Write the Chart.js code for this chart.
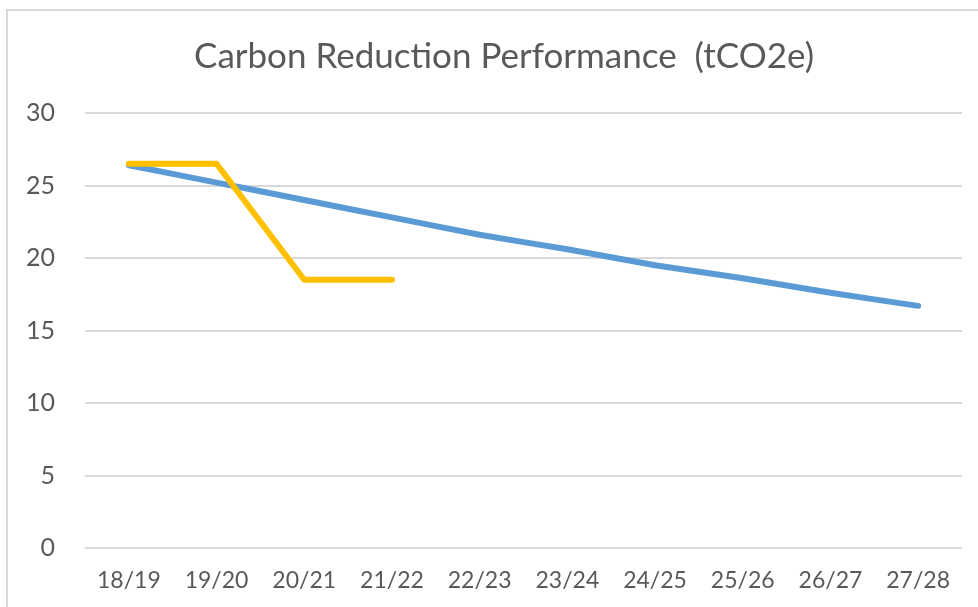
<!DOCTYPE html>
<html>
<head>
<meta charset="utf-8">
<script src="https://cdn.jsdelivr.net/npm/chart.js@4"></script>
<style>
  html, body { margin: 0; padding: 0; background: #fff; overflow: hidden; }
  #wrap { position: relative; width: 978px; height: 607px; }
  #frame { position: absolute; left: 6px; top: 9px; width: 1000px; height: 700px; border: 2px solid #d9d9d9; }
  #chart { position: absolute; left: 0; top: 0; }
</style>
</head>
<body>
<div id="wrap">
  <div id="frame"></div>
  <canvas id="chart" width="978" height="607"></canvas>
</div>
<script>
// chart values
const years = ['18/19', '19/20', '20/21', '21/22', '22/23', '23/24', '24/25', '25/26', '26/27', '27/28'];
const targetValues = [26.4, 25.2, 24.0, 22.8, 21.6, 20.6, 19.5, 18.6, 17.6, 16.7];
const actualValues = [26.5, 26.5, 18.5, 18.5];
const yTicks = [0, 5, 10, 15, 20, 25, 30];

const textColour = '#595959';
const gridColour = '#d9d9d9';
const fontFamily = 'Lato, "Open Sans", sans-serif';

// the reference title sits a bit right of the plot centre
const shiftTitle = {
  id: 'shiftTitle',
  afterLayout: (chart) => {
    if (chart.titleBlock) {
      chart.titleBlock.left = 46;
      chart.titleBlock.right = 962;
    }
  }
};

const data = {
  labels: years,
  datasets: [{
    label: 'Actual',
    data: actualValues,
    borderColor: '#FFC000',
    backgroundColor: '#FFC000',
    borderWidth: 6,
    pointRadius: 0,
    tension: 0,
    borderCapStyle: 'round',
    borderJoinStyle: 'round',
    order: 1
  }, {
    label: 'Target',
    data: targetValues,
    borderColor: '#5B9BD5',
    backgroundColor: '#5B9BD5',
    borderWidth: 6,
    pointRadius: 0,
    tension: 0.15,
    borderCapStyle: 'round',
    borderJoinStyle: 'round',
    order: 2
  }]
};

const config = {
  type: 'line',
  data: data,
  plugins: [shiftTitle],
  options: {
    responsive: false,
    animation: false,
    layout: { padding: { left: 0, right: 16, top: 0, bottom: 0 } },
    plugins: {
      legend: { display: false },
      tooltip: { enabled: false },
      title: {
        display: true,
        text: 'Carbon Reduction Performance  (tCO2e)',
        color: textColour,
        font: { family: fontFamily, size: 35, weight: 'normal' },
        padding: { top: 36, bottom: 35 }
      }
    },
    scales: {
      x: {
        offset: true,
        grid: { display: false, drawTicks: false },
        border: { display: false },
        ticks: {
          color: textColour,
          font: { family: fontFamily, size: 23 },
          padding: 19,
          maxRotation: 0,
          autoSkip: false
        },
        afterFit: (scale) => { scale.height = 59; }
      },
      y: {
        min: 0,
        max: 30,
        afterBuildTicks: (scale) => { scale.ticks = yTicks.map(v => ({ value: v })); },
        grid: { color: gridColour, lineWidth: 2, drawTicks: false },
        border: { display: false },
        ticks: {
          color: textColour,
          font: { family: fontFamily, size: 25 },
          padding: 30
        },
        afterFit: (scale) => { scale.width = 85; }
      }
    }
  }
};

new Chart(document.getElementById('chart').getContext('2d'), config);
</script>
</body>
</html>
